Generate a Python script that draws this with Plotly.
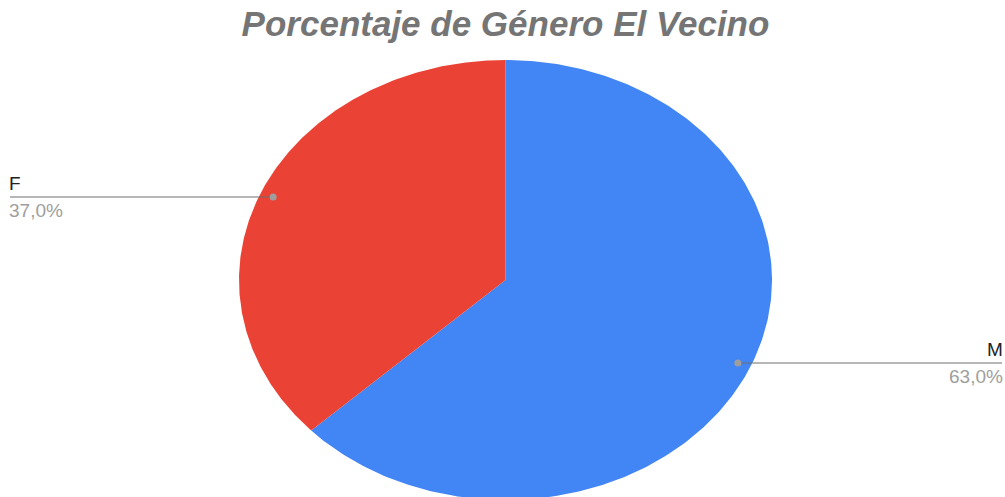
import numpy as np
import plotly.graph_objects as go

# Data
labels = ["M", "F"]
values = [63, 37]
pct_labels = ["63,0%", "37,0%"]
colors = ["#4285F4", "#EA4335"]
title = "Porcentaje de Género El Vecino"

W, H = 1005, 497
cx, cy = 505.5, 280.0
rx, ry = 266.5, 220.0
dot_frac = 0.95

fig = go.Figure()
total = float(sum(values))
start = 0.0
dots = []
for lab, val, col in zip(labels, values, colors):
    frac = val / total
    end = start + frac * 2 * np.pi
    th = np.linspace(start, end, 300)
    xs = np.concatenate([[cx], cx + rx * np.sin(th), [cx]])
    ys = np.concatenate([[cy], cy - ry * np.cos(th), [cy]])
    fig.add_trace(go.Scatter(x=xs, y=ys, fill="toself", fillcolor=col,
                             mode="lines", line=dict(width=0, color=col),
                             name=lab, hoverinfo="name", showlegend=False))
    mid = (start + end) / 2
    dots.append((cx + rx * dot_frac * np.sin(mid), cy - ry * dot_frac * np.cos(mid)))
    start = end

for (dx, dy), lab, pl in zip(dots, labels, pct_labels):
    left = dx < cx
    ex = 10 if left else 1002
    fig.add_trace(go.Scatter(x=[dx, ex], y=[dy, dy], mode="lines",
                             line=dict(color="#6e6e6e", width=1.2),
                             hoverinfo="skip", showlegend=False))
    fig.add_trace(go.Scatter(x=[dx], y=[dy], mode="markers",
                             marker=dict(color="#9e9e9e", size=7),
                             hoverinfo="skip", showlegend=False))
    anchor = "left" if left else "right"
    fig.add_annotation(x=ex, y=dy - 1, text=lab, showarrow=False,
                       xanchor=anchor, yanchor="bottom", xshift=(-3 if left else 3),
                       font=dict(family="Liberation Sans, Arial", size=19, color="#222222"))
    fig.add_annotation(x=ex, y=dy + 1, text=pl, showarrow=False,
                       xanchor=anchor, yanchor="top", xshift=(-3 if left else 3),
                       font=dict(family="Liberation Sans, Arial", size=19, color="#9e9e9e"))

fig.update_layout(
    width=W, height=H,
    margin=dict(l=0, r=0, t=0, b=0),
    paper_bgcolor="white", plot_bgcolor="white",
    title=dict(text="<b><i>" + title + "</i></b>", x=0.503, xanchor="center",
               y=1 - 24 / H, yanchor="middle", yref="paper",
               font=dict(family="Liberation Sans, Arial", size=35, color="#757575")),
    xaxis=dict(range=[0, W], visible=False, fixedrange=True),
    yaxis=dict(range=[H, 0], visible=False, fixedrange=True),
)

fig.write_html("out.html", config={"displayModeBar": False},
               post_script="document.body.style.margin='0px';document.body.style.overflow='hidden';")
